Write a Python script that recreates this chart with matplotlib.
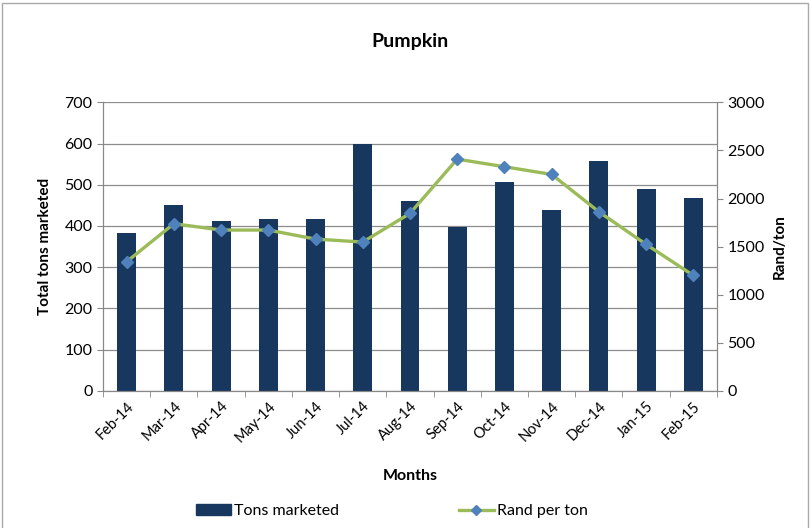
import numpy as np
import matplotlib
matplotlib.use("Agg")
import matplotlib.pyplot as plt
from matplotlib.patches import Rectangle
from matplotlib.lines import Line2D

plt.rcParams['font.family'] = ['Lato', 'DejaVu Sans']

months = ["Feb-14", "Mar-14", "Apr-14", "May-14", "Jun-14", "Jul-14", "Aug-14",
          "Sep-14", "Oct-14", "Nov-14", "Dec-14", "Jan-15", "Feb-15"]
tons = [384, 450, 413, 418, 416, 599, 460, 398, 508, 440, 558, 489, 468]
rand_per_ton = [1342, 1738, 1672, 1672, 1578, 1547, 1845,
                2410, 2331, 2251, 1862, 1523, 1200]

bar_col = "#17375E"
line_col = "#9BBB59"
mark_col = "#4F81BD"
axis_col = "#888888"

fig = plt.figure(figsize=(8.11, 5.28), dpi=100)
ax = fig.add_axes([0.127, 0.26, 0.757, 0.546])
ax2 = ax.twinx()

x = np.arange(len(months))
ax.bar(x, tons, width=0.4, color=bar_col, zorder=2)
ax2.plot(x, rand_per_ton, color=line_col, lw=2.4, marker="D", markersize=6,
         markerfacecolor=mark_col, markeredgecolor=mark_col, zorder=3)

ax.set_xlim(-0.5, len(months) - 0.5)
ax.set_ylim(0, 700)
ax.set_yticks(range(0, 701, 100))
ax2.set_ylim(0, 3000)
ax2.set_yticks(range(0, 3001, 500))

ax.yaxis.grid(True, color="#8c8c8c", lw=0.9, zorder=0)
ax.set_axisbelow(True)

ax.set_xticks(x)
ax.set_xticklabels(months, rotation=45, ha="right", rotation_mode="anchor", fontsize=10.5)
ax.set_xticks(np.arange(-0.5, len(months), 1), minor=True)
ax.tick_params(axis="x", which="major", length=0, pad=6)
ax.tick_params(axis="x", which="minor", length=4, color=axis_col)
ax.tick_params(axis="y", length=4, color=axis_col, labelsize=11.5)
ax2.tick_params(axis="y", length=4, color=axis_col, labelsize=11.5)

for a in (ax, ax2):
    a.spines["top"].set_visible(False)
    for s in ("left", "right", "bottom"):
        a.spines[s].set_color(axis_col)

ax.set_title("Pumpkin", fontsize=14, fontweight="bold", pad=40)
ax.set_xlabel("Months", fontsize=11.5, fontweight="bold", labelpad=17)
ax.set_ylabel("Total tons marketed", fontsize=11, fontweight="bold", labelpad=9)
ax2.set_ylabel("Rand/ton", fontsize=11, fontweight="bold", labelpad=6)

handles = [Rectangle((0, 0), 1, 1, color=bar_col),
           Line2D([], [], color=line_col, lw=2.4, marker="D", markersize=5,
                  markerfacecolor=mark_col, markeredgecolor=mark_col)]
fig.legend(handles, ["Tons marketed", "Rand per ton"], loc="center",
           bbox_to_anchor=(0.483, 0.032), ncol=2, frameon=False, fontsize=11.5,
           columnspacing=7.5, handlelength=2.2, handletextpad=0.2)

fig.patches.append(Rectangle((0.003, -0.01), 0.993, 1.005, transform=fig.transFigure,
                             fill=False, edgecolor="#aaaaaa", lw=1))

fig.savefig("out.png", dpi=100)
